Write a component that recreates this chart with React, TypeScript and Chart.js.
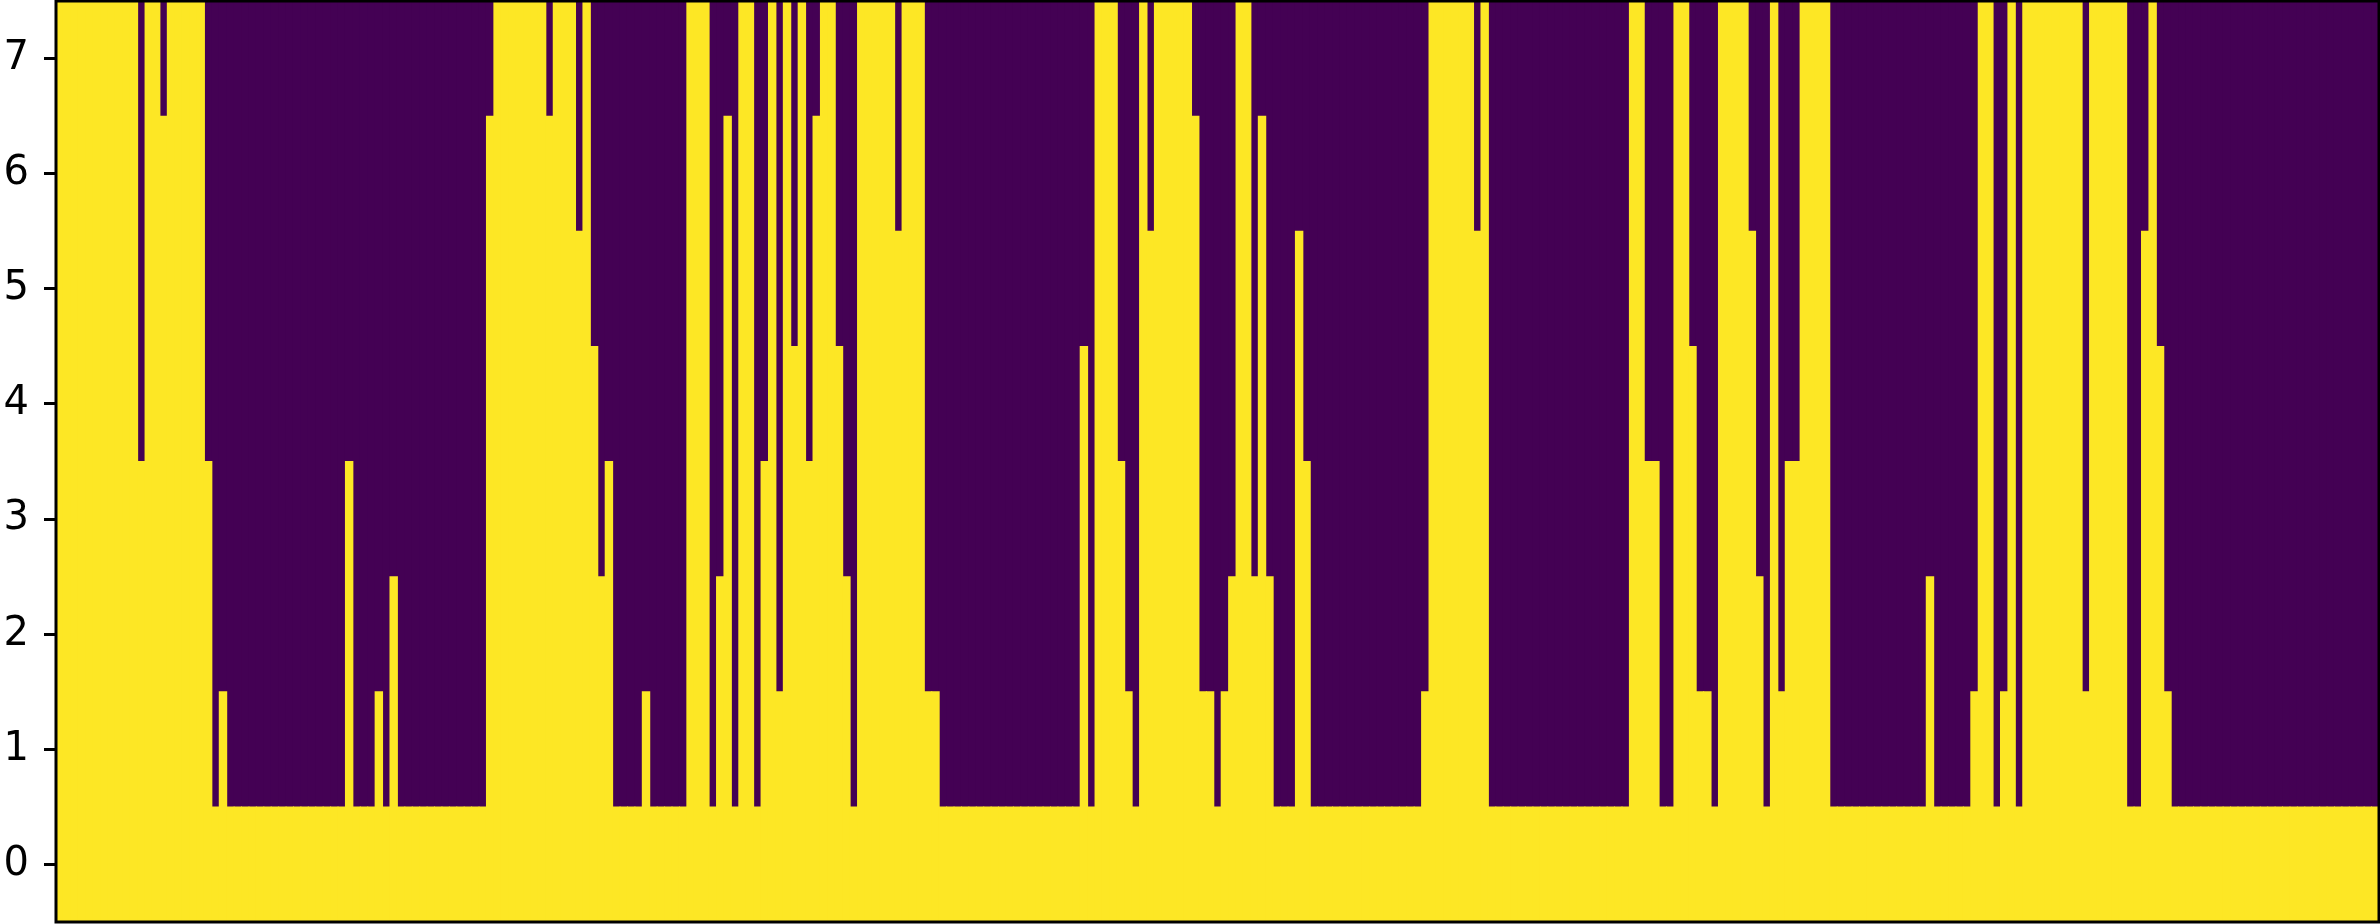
import React, { useEffect, useRef } from "react";
import { Chart, registerables } from "chart.js";

Chart.register(...registerables);

// Row indices of the image (y axis, origin at bottom)
const rows = [0, 1, 2, 3, 4, 5, 6, 7];
// Y tick labels
const yTicks = [0, 1, 2, 3, 4, 5, 6, 7];
// For each column: highest row that is "on" (yellow); rows above are "off" (purple)
const columnHeights = [
  7, 7, 7, 7, 7, 7, 7, 7, 7, 7,
  7, 3, 7, 7, 6, 7, 7, 7, 7, 7,
  3, 0, 1, 0, 0, 0, 0, 0, 0, 0,
  0, 0, 0, 0, 0, 0, 0, 0, 0, 3,
  0, 0, 0, 1, 0, 2, 0, 0, 0, 0,
  0, 0, 0, 0, 0, 0, 0, 0, 6, 7,
  7, 7, 7, 7, 7, 7, 6, 7, 7, 7,
  5, 7, 4, 2, 3, 0, 0, 0, 0, 1,
  0, 0, 0, 0, 0, 7, 7, 7, 0, 2,
  6, 0, 7, 7, 0, 3, 7, 1, 7, 4,
  7, 3, 6, 7, 7, 4, 2, 0, 7, 7,
  7, 7, 7, 5, 7, 7, 7, 1, 1, 0,
  0, 0, 0, 0, 0, 0, 0, 0, 0, 0,
  0, 0, 0, 0, 0, 0, 0, 0, 4, 0,
  7, 7, 7, 3, 1, 0, 7, 5, 7, 7,
  7, 7, 7, 6, 1, 1, 0, 1, 2, 7,
  7, 2, 6, 2, 0, 0, 0, 5, 3, 0,
  0, 0, 0, 0, 0, 0, 0, 0, 0, 0,
  0, 0, 0, 0, 1, 7, 7, 7, 7, 7,
  7, 5, 7, 0, 0, 0, 0, 0, 0, 0,
  0, 0, 0, 0, 0, 0, 0, 0, 0, 0,
  0, 0, 7, 7, 3, 3, 0, 0, 7, 7,
  4, 1, 1, 0, 7, 7, 7, 7, 5, 2,
  0, 7, 1, 3, 3, 7, 7, 7, 7, 0,
  0, 0, 0, 0, 0, 0, 0, 0, 0, 0,
  0, 0, 2, 0, 0, 0, 0, 0, 1, 7,
  7, 0, 1, 7, 0, 7, 7, 7, 7, 7,
  7, 7, 7, 1, 7, 7, 7, 7, 7, 0,
  0, 5, 7, 4, 1, 0, 0, 0, 0, 0,
  0, 0, 0, 0, 0, 0, 0, 0, 0, 0,
  0, 0, 0, 0, 0, 0, 0, 0, 0, 0,
  0, 0, 0,
];
const columns = columnHeights.map((_, i) => String(i));

const ON_COLOR = "#fde725";
const OFF_COLOR = "#440154";

const background = {
  id: "bgfill",
  beforeDatasetsDraw(chart: any) {
    const { ctx, chartArea } = chart;
    ctx.save();
    ctx.fillStyle = OFF_COLOR;
    ctx.fillRect(
      chartArea.left,
      chartArea.top,
      chartArea.right - chartArea.left,
      chartArea.bottom - chartArea.top
    );
    ctx.restore();
  },
};

const frame = {
  id: "frame",
  afterDatasetsDraw(chart: any) {
    const { ctx, chartArea } = chart;
    ctx.save();
    ctx.strokeStyle = "#000";
    ctx.lineWidth = 3;
    ctx.strokeRect(
      chartArea.left,
      chartArea.top,
      chartArea.right - chartArea.left,
      chartArea.bottom - chartArea.top
    );
    ctx.restore();
  },
};

export default function App() {
  const ref = useRef<HTMLCanvasElement | null>(null);

  useEffect(() => {
    document.body.style.margin = "0";
    const lo = rows[0] - 0.5;
    const hi = rows[rows.length - 1] + 0.5;
    const onData = columnHeights.map((h) => [lo, h + 0.5]);
    const offData = columnHeights.map((h) => [h + 0.5, hi]);
    const common = {
      borderWidth: 0,
      barPercentage: 1,
      categoryPercentage: 1,
      grouped: false,
      inflateAmount: 0.5,
    };
    const chart = new Chart(ref.current as HTMLCanvasElement, {
      type: "bar",
      data: {
        labels: columns,
        datasets: [
          { ...common, data: onData as any, backgroundColor: ON_COLOR },
          { ...common, data: offData as any, backgroundColor: OFF_COLOR },
        ],
      },
      options: {
        responsive: false,
        animation: false,
        devicePixelRatio: 1,
        layout: { padding: { top: 1, right: 1, bottom: 2, left: 0 } },
        plugins: { legend: { display: false }, tooltip: { enabled: false } },
        scales: {
          x: { display: false, offset: true, grid: { display: false } },
          y: {
            min: lo,
            max: hi,
            afterBuildTicks: (s: any) => {
              s.ticks = yTicks.map((v) => ({ value: v }));
            },
            afterFit: (s: any) => {
              s.width = 56;
              s.paddingTop = 0;
              s.paddingBottom = 0;
            },
            ticks: {
              font: { family: "DejaVu Sans", size: 40 },
              color: "#000",
              padding: 15,
            },
            grid: {
              drawOnChartArea: false,
              tickLength: 12,
              tickWidth: 3,
              tickColor: "#000",
            },
            border: { display: false },
          },
        },
      } as any,
      plugins: [background, frame],
    });
    return () => chart.destroy();
  }, []);

  return (
    <canvas
      ref={ref}
      width={2380}
      height={924}
      style={{ display: "block", width: 2380, height: 924 }}
    />
  );
}
